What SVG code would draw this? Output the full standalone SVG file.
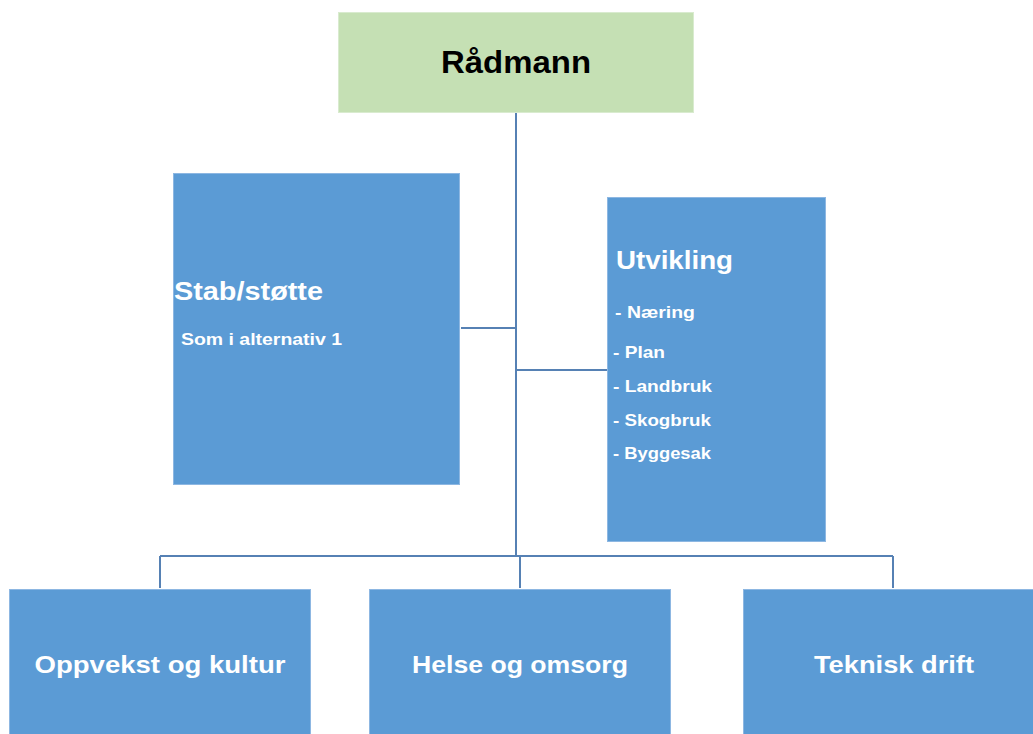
<svg xmlns="http://www.w3.org/2000/svg" width="1033" height="734" viewBox="0 0 1033 734">
<style>
.box{fill:#5B9BD5;stroke:#8DB7E2;stroke-width:1}
.top{fill:#C5E0B4;stroke:#D9EBCF;stroke-width:1}
.t{font-family:"Liberation Sans",Arial,sans-serif;font-weight:bold;fill:#fff}
.conn{stroke:#5681B4;stroke-width:2;fill:none}
</style>
<rect width="1033" height="734" fill="#fff"/>
<g id="connectors">
<path class="conn" d="M516 113V556"/>
<path class="conn" d="M461 328H516"/>
<path class="conn" d="M516 370H607"/>
<path class="conn" d="M160 556H893"/>
<path class="conn" d="M160 556V588"/>
<path class="conn" d="M520 556V588"/>
<path class="conn" d="M893 556V588"/>
</g>
<g id="radmann">
<rect class="top" x="338.5" y="12.5" width="355" height="100"/>
<text x="516" y="73" text-anchor="middle" font-family="Liberation Sans,Arial,sans-serif" font-weight="bold" font-size="31" fill="#000" textLength="150" lengthAdjust="spacingAndGlyphs">Rådmann</text>
</g>
<g id="stab">
<rect class="box" x="173.5" y="173.5" width="286" height="311"/>
<text class="t" x="174" y="300" font-size="25" textLength="149" lengthAdjust="spacingAndGlyphs">Stab/støtte</text>
<text class="t" x="181" y="345" font-size="16.5" textLength="161" lengthAdjust="spacingAndGlyphs">Som i alternativ 1</text>
</g>
<g id="utvikling">
<rect class="box" x="607.5" y="197.5" width="218" height="344"/>
<text class="t" x="616" y="269" font-size="25" textLength="117" lengthAdjust="spacingAndGlyphs">Utvikling</text>
<text class="t" x="615" y="318" font-size="16.5" textLength="80" lengthAdjust="spacingAndGlyphs">- Næring</text>
<text class="t" x="613" y="358" font-size="16.5" textLength="52" lengthAdjust="spacingAndGlyphs">- Plan</text>
<text class="t" x="613" y="392" font-size="16.5" textLength="99" lengthAdjust="spacingAndGlyphs">- Landbruk</text>
<text class="t" x="613" y="426" font-size="16.5" textLength="98" lengthAdjust="spacingAndGlyphs">- Skogbruk</text>
<text class="t" x="613" y="459" font-size="16.5" textLength="98" lengthAdjust="spacingAndGlyphs">- Byggesak</text>
</g>
<g id="oppvekst">
<rect class="box" x="9.5" y="589.5" width="301" height="150"/>
<text class="t" x="160" y="673" font-size="24" text-anchor="middle" textLength="251" lengthAdjust="spacingAndGlyphs">Oppvekst og kultur</text>
</g>
<g id="helse">
<rect class="box" x="369.5" y="589.5" width="301" height="150"/>
<text class="t" x="520" y="673" font-size="24" text-anchor="middle" textLength="216" lengthAdjust="spacingAndGlyphs">Helse og omsorg</text>
</g>
<g id="teknisk">
<rect class="box" x="743.5" y="589.5" width="301" height="150"/>
<text class="t" x="894" y="673" font-size="24" text-anchor="middle" textLength="160" lengthAdjust="spacingAndGlyphs">Teknisk drift</text>
</g>
</svg>
